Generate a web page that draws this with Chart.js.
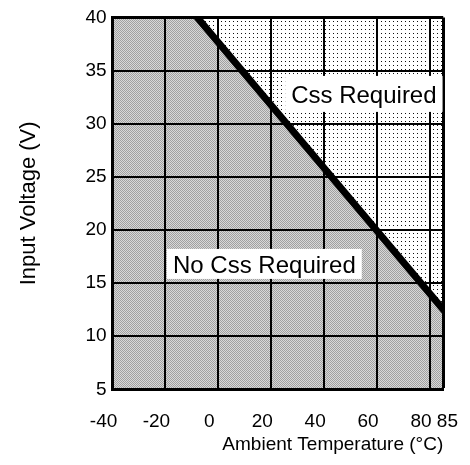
<!DOCTYPE html>
<html>
<head>
<meta charset="utf-8">
<script src="https://cdn.jsdelivr.net/npm/chart.js@4.4.1/dist/chart.umd.min.js"></script>
<style>
  html, body { margin: 0; padding: 0; background: #fff; }
</style>
</head>
<body>
<canvas id="cssChart" width="470" height="465"></canvas>
<script>
// axis ticks
const tempTicks = [-40, -20, 0, 20, 40, 60, 80, 85];
const voltMin = 5;
const voltMax = 40;
const voltStep = 5;

// Css limit line (ambient temp -> max input voltage)
const limitTemp = [-8, 85];
const limitVolt = [40, 12.5];

// region labels, in data units
const regionNames = ["Css Required", "No Css Required"];
const regionTemp = [55, 17.4];
const regionVolt = [32.8, 16.8];

const FONT = '"Liberation Sans", Arial, Helvetica, sans-serif';

function makePattern(size, paint) {
  const c = document.createElement("canvas");
  c.width = size;
  c.height = size;
  const g = c.getContext("2d");
  paint(g);
  return g.createPattern(c, "repeat");
}

// halftone grey for the "no Css" area
const greyFill = makePattern(2, g => {
  g.fillStyle = "#d8d8d8";
  g.fillRect(0, 0, 2, 2);
  g.fillStyle = "#a0a0a0";
  g.fillRect(0, 0, 1, 1);
  g.fillRect(1, 1, 1, 1);
});

// white with dots for the "Css required" area
const dotFill = makePattern(4, g => {
  g.fillStyle = "#fff";
  g.fillRect(0, 0, 4, 4);
  g.fillStyle = "#111";
  g.fillRect(1, 1, 1, 1);
});

const limitPoints = limitTemp.map((t, i) => ({ x: t, y: limitVolt[i] }));
const greyPoints = [{ x: tempTicks[0], y: limitVolt[0] }].concat(limitPoints);

const boxHeights = [36, 30];

const regionLabels = {
  id: "regionLabels",
  afterDraw(chart) {
    const { ctx, scales } = chart;
    ctx.save();
    ctx.font = "24px " + FONT;
    ctx.textAlign = "center";
    ctx.textBaseline = "alphabetic";
    regionNames.forEach((name, i) => {
      const cx = scales.x.getPixelForValue(regionTemp[i]);
      const cy = scales.y.getPixelForValue(regionVolt[i]);
      const w = ctx.measureText(name).width + 12;
      const h = boxHeights[i];
      ctx.fillStyle = "#fff";
      ctx.fillRect(cx - w / 2, cy - h / 2, w, h);
      ctx.fillStyle = "#000";
      ctx.fillText(name, cx, cy + 8.6);
    });
    ctx.restore();
  }
};

const chartCtx = document.getElementById("cssChart").getContext("2d");

let cssChart = new Chart(chartCtx, {
  type: "line",
  data: {
    datasets: [{
      label: "Limit",
      data: limitPoints,
      borderColor: "#000",
      borderWidth: 7,
      borderCapStyle: "square",
      pointRadius: 0,
      tension: 0,
      fill: "end",
      backgroundColor: dotFill,
      clip: 0
    }, {
      label: "No Css Required",
      data: greyPoints,
      borderColor: "rgba(0,0,0,0)",
      borderWidth: 0,
      pointRadius: 0,
      tension: 0,
      fill: "start",
      backgroundColor: greyFill,
      clip: 0
    }]
  },
  options: {
    responsive: false,
    animation: false,
    devicePixelRatio: 1,
    layout: { padding: { left: 4, right: 0, top: 6, bottom: 8.5 } },
    plugins: {
      legend: { display: false },
      tooltip: { enabled: false }
    },
    scales: {
      x: {
        type: "linear",
        min: tempTicks[0],
        max: tempTicks[tempTicks.length - 1],
        afterBuildTicks: s => { s.ticks = tempTicks.map(v => ({ value: v })); },
        ticks: {
          autoSkip: false,
          maxRotation: 0,
          labelOffset: -9,
          padding: 3,
          color: "#000",
          font: { family: FONT, size: 19 },
          callback: (v, i, arr) => i === arr.length - 1 ? "     " + v : String(v)
        },
        grid: {
          z: 1,
          color: "#000",
          lineWidth: c => (c.tick && c.tick.value === tempTicks[tempTicks.length - 1]) ? 3 : 2,
          drawTicks: true,
          tickLength: 17.6,
          tickColor: "rgba(0,0,0,0)"
        },
        border: { color: "#000", width: 3, z: 2 },
        title: {
          display: true,
          text: "Ambient Temperature (°C)",
          align: "end",
          color: "#000",
          font: { family: FONT, size: 19 },
          padding: { top: -2, bottom: 0 }
        }
      },
      y: {
        min: voltMin,
        max: voltMax,
        ticks: {
          stepSize: voltStep,
          padding: 6,
          color: "#000",
          font: { family: FONT, size: 19 }
        },
        grid: {
          z: 1,
          color: "#000",
          lineWidth: c => (c.tick && c.tick.value === voltMax) ? 3 : 2,
          drawTicks: false
        },
        border: { color: "#000", width: 3, z: 2 },
        title: {
          display: true,
          text: "Input Voltage (V)",
          color: "#000",
          font: { family: FONT, size: 22 },
          padding: { top: 12, bottom: 37 }
        }
      }
    }
  },
  plugins: [regionLabels]
});
</script>
</body>
</html>
